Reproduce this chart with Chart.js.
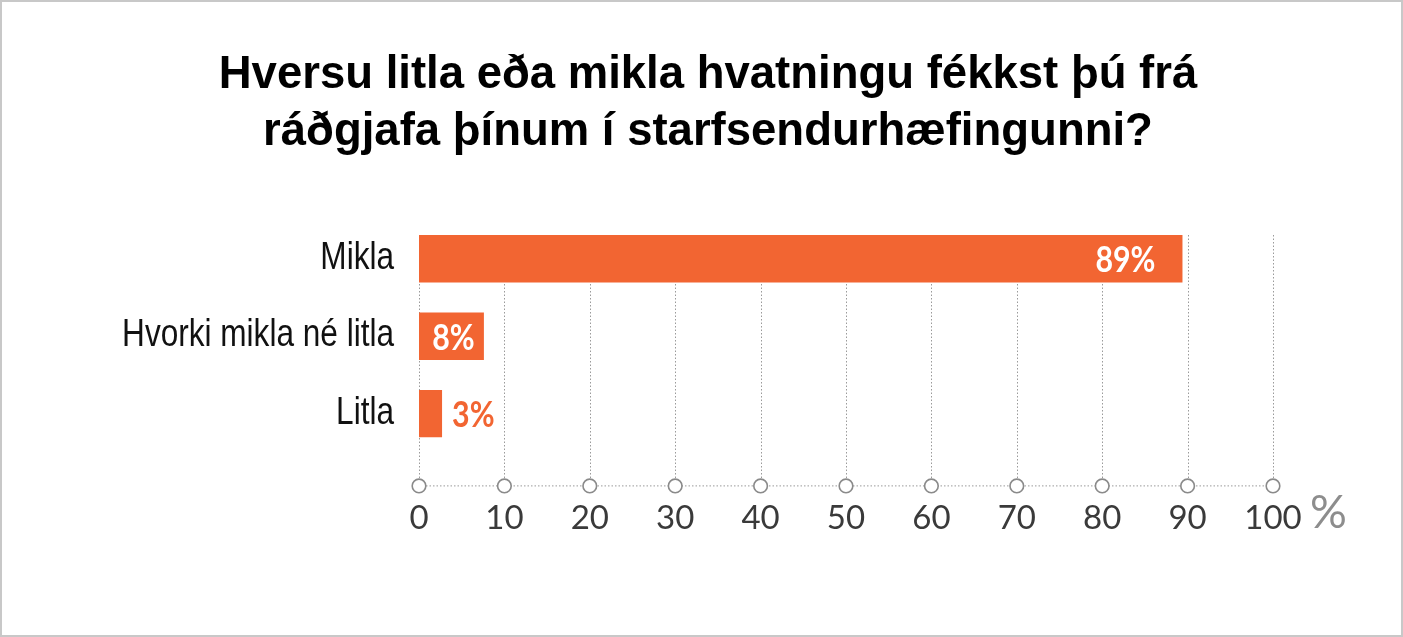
<!DOCTYPE html>
<html>
<head>
<meta charset="utf-8">
<script src="https://cdn.jsdelivr.net/npm/chart.js@4/dist/chart.umd.min.js"></script>
<style>
  html, body { margin: 0; padding: 0; background: #fff; }
  #wrap { position: relative; width: 1403px; height: 637px; }
  #frame { position: absolute; inset: 0; border: 2px solid #c8c8c8; box-sizing: border-box; pointer-events: none; }
</style>
</head>
<body>
<div id="wrap">
  <canvas id="surveyChart"></canvas>
  <div id="frame"></div>
</div>
<script>
// Chart data
const titleLines = ['Hversu litla eða mikla hvatningu fékkst þú frá', 'ráðgjafa þínum í starfsendurhæfingunni?'];
const categories = ['Mikla', 'Hvorki mikla né litla', 'Litla'];
const shares = [89.4, 7.6, 2.7];
const tickValues = [0, 10, 20, 30, 40, 50, 60, 70, 80, 90, 100];
const unitLabel = '%';

const barColor = '#f26532';
const gridColor = '#9a9a9a';

// Draws text squeezed horizontally, to get a condensed look
function narrowText(ctx, text, x, y, squeeze) {
    ctx.save();
    ctx.translate(x, y);
    ctx.scale(squeeze, 1);
    ctx.fillText(text, 0, 0);
    ctx.restore();
}

// Title, category labels, dotted grid, axis with circles, value labels and unit sign
const axisDecor = {
    id: 'axisDecor',
    beforeDatasetsDraw(chart) {
        const { ctx, chartArea, scales } = chart;
        const first = chart.getDatasetMeta(0).data[0];
        const top = first.y - first.height / 2;
        const axisY = chartArea.bottom + 33;
        ctx.save();

        // title
        ctx.fillStyle = '#000';
        ctx.font = 'bold 45.5px "Liberation Sans", Arial, sans-serif';
        ctx.textAlign = 'center';
        ctx.textBaseline = 'alphabetic';
        titleLines.forEach((line, i) => ctx.fillText(line, 708, 88 + i * 57));

        // category labels
        ctx.fillStyle = '#111';
        ctx.font = '38.5px "Liberation Sans", Arial, sans-serif';
        ctx.textAlign = 'right';
        categories.forEach((c, i) => {
            narrowText(ctx, c, chartArea.left - 25, scales.y.getPixelForValue(i) + 10, 0.82);
        });

        // vertical dotted grid
        ctx.strokeStyle = gridColor;
        ctx.lineWidth = 1;
        ctx.setLineDash([1.5, 2]);
        scales.x.ticks.forEach(t => {
            const x = Math.round(scales.x.getPixelForValue(t.value)) + 0.5;
            ctx.beginPath();
            ctx.moveTo(x, top);
            ctx.lineTo(x, axisY);
            ctx.stroke();
        });
        ctx.restore();
    },
    afterDatasetsDraw(chart) {
        const { ctx, chartArea, scales } = chart;
        const axisY = chartArea.bottom + 33;
        const x0 = scales.x.getPixelForValue(tickValues[0]);
        const x1 = scales.x.getPixelForValue(tickValues[tickValues.length - 1]);
        ctx.save();

        // axis line
        ctx.strokeStyle = gridColor;
        ctx.lineWidth = 1;
        ctx.setLineDash([1.5, 2]);
        ctx.beginPath();
        ctx.moveTo(x0, axisY + 0.5);
        ctx.lineTo(x1, axisY + 0.5);
        ctx.stroke();
        ctx.setLineDash([]);

        // circles on ticks
        ctx.strokeStyle = '#8a8a8a';
        ctx.lineWidth = 1.6;
        ctx.fillStyle = '#fff';
        scales.x.ticks.forEach(t => {
            const x = scales.x.getPixelForValue(t.value);
            ctx.beginPath();
            ctx.arc(x, axisY + 0.5, 6.8, 0, Math.PI * 2);
            ctx.fill();
            ctx.stroke();
        });

        // unit sign
        ctx.fillStyle = '#8d8d8d';
        ctx.font = '46px Lato, "Open Sans", sans-serif';
        ctx.textAlign = 'left';
        ctx.textBaseline = 'alphabetic';
        ctx.fillText(unitLabel, x1 + 37, axisY + 43);

        // value labels
        const squeeze = 0.82;
        ctx.font = 'bold 37px Lato, "Open Sans", sans-serif';
        chart.getDatasetMeta(0).data.forEach((bar, i) => {
            const text = Math.round(shares[i]) + '%';
            const w = ctx.measureText(text).width * squeeze;
            const barW = bar.x - bar.base;
            const y = bar.y + 13.5;
            if (barW > w + 60) {
                ctx.fillStyle = '#fff';
                ctx.textAlign = 'right';
                narrowText(ctx, text, bar.x - 27, y, squeeze);
            } else if (barW > w + 10) {
                ctx.fillStyle = '#fff';
                ctx.textAlign = 'center';
                narrowText(ctx, text, (bar.x + bar.base) / 2 + 2, y, squeeze);
            } else {
                ctx.fillStyle = barColor;
                ctx.textAlign = 'left';
                narrowText(ctx, text, bar.x + 10, y, squeeze);
            }
        });
        ctx.restore();
    }
};

const ctx = document.getElementById('surveyChart').getContext('2d');
const surveyChart = new Chart(ctx, {
    type: 'bar',
    data: {
        labels: categories,
        datasets: [{
            data: shares,
            backgroundColor: barColor,
            borderWidth: 0,
            categoryPercentage: 1,
            barPercentage: 0.612
        }]
    },
    options: {
        indexAxis: 'y',
        responsive: true,
        maintainAspectRatio: false,
        animation: false,
        layout: {
            padding: { left: 143, right: 130, top: 220, bottom: 53 }
        },
        plugins: {
            legend: { display: false },
            tooltip: { enabled: false },
            title: { display: false }
        },
        scales: {
            x: {
                min: 0,
                max: 100,
                afterBuildTicks: (scale) => { scale.ticks = tickValues.map(v => ({ value: v })); },
                grid: { display: false, drawTicks: false },
                border: { display: false },
                ticks: {
                    autoSkip: false,
                    maxRotation: 0,
                    padding: 46,
                    color: '#3a3a3a',
                    font: { family: 'Lato, "Open Sans", sans-serif', size: 33 }
                }
            },
            y: {
                afterFit: (scale) => { scale.width = 276; },
                grid: { display: false, drawTicks: false },
                border: { display: false },
                ticks: { display: false }
            }
        }
    },
    plugins: [axisDecor]
});
</script>
</body>
</html>
